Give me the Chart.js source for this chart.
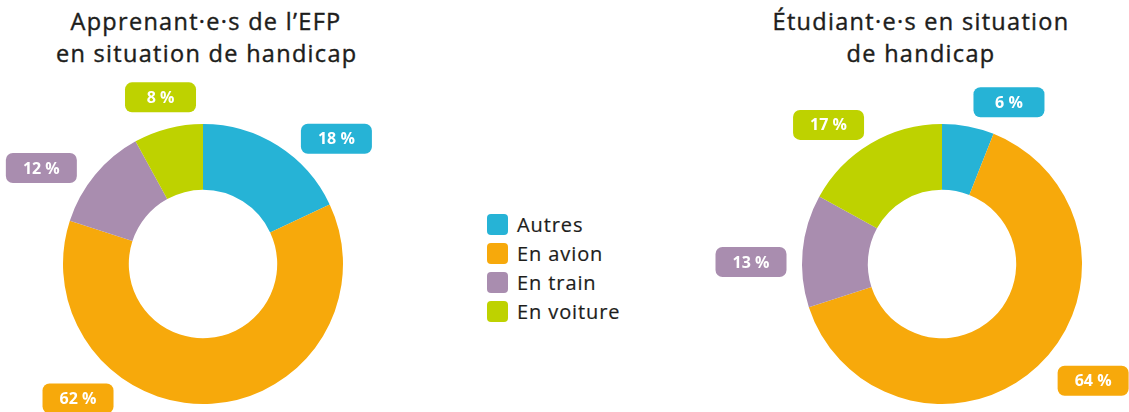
<!DOCTYPE html>
<html>
<head>
<meta charset="utf-8">
<script src="https://cdn.jsdelivr.net/npm/chart.js@4.4.1/dist/chart.umd.min.js"></script>
<style>
  html, body { margin: 0; padding: 0; background: #ffffff; }
  body { width: 1129px; height: 412px; position: relative; overflow: hidden; font-family: "Open Sans", "Noto Sans", sans-serif; color: #1d1d1b; }
  .title { position: absolute; top: 5px; text-align: center; font-size: 23.5px; line-height: 32px; font-weight: 500; white-space: nowrap; letter-spacing: 1.3px; -webkit-text-stroke: 0.4px #1d1d1b; }
  #t1 { left: 56px; width: 300px; }
  #t2 { left: 771px; width: 300px; }
  .wrap { position: absolute; top: 0; height: 412px; }
  #w1 { left: 0; width: 420px; }
  #w2 { left: 700px; width: 429px; }
  #legend { position: absolute; left: 487px; top: 210px; }
  .li { height: 29px; display: flex; align-items: center; font-size: 20px; letter-spacing: 0.9px; -webkit-text-stroke: 0.2px #1d1d1b; }
  .sw { width: 21px; height: 21px; border-radius: 4px; margin-right: 9px; flex: none; }
</style>
</head>
<body>
<div class="title" id="t1">Apprenant·e·s de l’EFP<br>en situation de handicap</div>
<div class="title" id="t2">Étudiant·e·s en situation<br>de handicap</div>
<div class="wrap" id="w1"><canvas id="c1"></canvas></div>
<div class="wrap" id="w2"><canvas id="c2"></canvas></div>
<div id="legend"></div>
<script>
const categories = ["Autres", "En avion", "En train", "En voiture"];
const apprenantsEFP = [18, 62, 12, 8];
const etudiants = [6, 64, 13, 17];
const colors = ["#26b3d6", "#f7a90b", "#a98daf", "#bed200"];

// label box placement: polar offsets (degrees, px) from doughnut centre
const labelPlaceLeft = [[-43.2, 183], [132.9, 183.6], [-149.3, 188], [-104.3, 172]];
const labelPlaceRight = [[-67.5, 175], [37.7, 191], [-179.4, 191], [-129.2, 179.5]];

const labelPlugin = {
  id: 'boxLabels',
  afterDatasetsDraw(chart, args, opts) {
    const ctx = chart.ctx;
    const meta = chart.getDatasetMeta(0);
    const data = chart.data.datasets[0].data;
    meta.data.forEach((arc, i) => {
      const p = opts.place[i];
      const a = p[0] * Math.PI / 180;
      const cx = arc.x + Math.cos(a) * p[1];
      const cy = arc.y + Math.sin(a) * p[1];
      const w = 71, h = 30, r = 7;
      ctx.save();
      ctx.fillStyle = chart.data.datasets[0].backgroundColor[i];
      ctx.beginPath();
      ctx.roundRect(cx - w / 2, cy - h / 2, w, h, r);
      ctx.fill();
      ctx.fillStyle = '#ffffff';
      ctx.font = 'bold 16px "Open Sans", "Noto Sans", sans-serif';
      ctx.textAlign = 'center';
      ctx.textBaseline = 'middle';
      ctx.fillText(data[i] + ' %', cx, cy + 1);
      ctx.restore();
    });
  }
};

function makeChart(id, values, place, padding) {
  return new Chart(document.getElementById(id), {
    type: 'doughnut',
    data: {
      labels: categories,
      datasets: [{ data: values, backgroundColor: colors, borderWidth: 0, hoverOffset: 0 }]
    },
    options: {
      responsive: true,
      maintainAspectRatio: false,
      animation: false,
      cutout: '53%',
      layout: { padding: padding },
      plugins: {
        legend: { display: false },
        tooltip: { enabled: false },
        boxLabels: { place: place }
      }
    },
    plugins: [labelPlugin]
  });
}

makeChart('c1', apprenantsEFP, labelPlaceLeft, { left: 63, right: 77, top: 124, bottom: 8 });
makeChart('c2', etudiants, labelPlaceRight, { left: 102, right: 47, top: 124, bottom: 8 });

const legend = document.getElementById('legend');
categories.forEach((c, i) => {
  const row = document.createElement('div');
  row.className = 'li';
  const sw = document.createElement('span');
  sw.className = 'sw';
  sw.style.background = colors[i];
  const tx = document.createElement('span');
  tx.textContent = c;
  row.appendChild(sw);
  row.appendChild(tx);
  legend.appendChild(row);
});
</script>
</body>
</html>
